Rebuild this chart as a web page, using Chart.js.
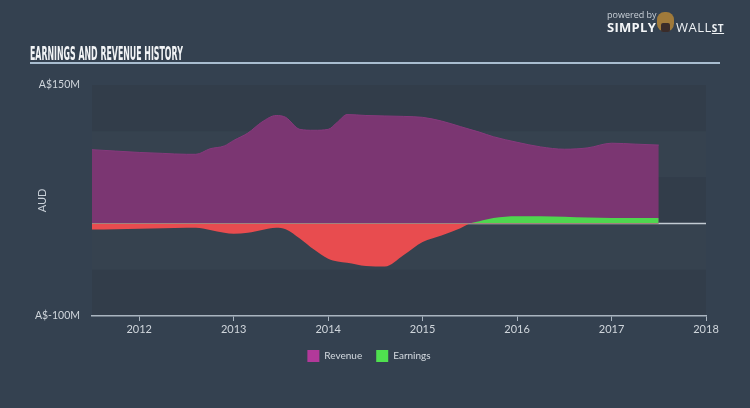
<!DOCTYPE html>
<html>
<head>
<meta charset="utf-8">
<script src="https://cdn.jsdelivr.net/npm/chart.js@4.4.0/dist/chart.umd.min.js"></script>
<style>
    html, body { margin: 0; padding: 0; background: #344150; }
    #wrap { position: relative; width: 750px; height: 408px; overflow: hidden; background: #344150; }
    #chart { position: absolute; left: 0; top: 0; }
    .title {
        position: absolute; left: 30px; top: 42px; color: #f2f4f6;
        font: bold 19px 'Liberation Sans Narrow', 'DejaVu Sans Condensed', sans-serif;
        transform: scaleX(0.46); transform-origin: left top; white-space: nowrap;
    }
    .rule { position: absolute; left: 30px; top: 62px; width: 690px; height: 2px; background: #a9bdd0; }
    .powered { position: absolute; left: 607px; top: 8px; color: #c9d0d8; font: 9px 'Open Sans', sans-serif; }
    .simply { position: absolute; left: 607px; top: 18px; color: #f4f6f8; font: bold 13px 'Open Sans', sans-serif; letter-spacing: 0.3px; }
    .icon { position: absolute; left: 657px; top: 12px; width: 17px; height: 20px; border-radius: 8px 8px 9px 9px; background: #a07a3a; }
    .icon::after { content: ''; position: absolute; left: 4px; top: 11px; width: 9px; height: 9px; background: #3a2c2a; border-radius: 2px; }
    .wall { position: absolute; left: 676px; top: 18px; color: #eef1f4; font: 13px 'Open Sans', sans-serif; letter-spacing: 0.5px; }
    .wall span { font-weight: bold; font-size: 10px; text-decoration: underline; }
</style>
</head>
<body>
<div id="wrap">
    <canvas id="chart" width="750" height="408"></canvas>
    <div class="title">EARNINGS AND REVENUE HISTORY</div>
    <div class="rule"></div>
    <div class="powered">powered by</div>
    <div class="simply">SIMPLY</div>
    <div class="icon"></div>
    <div class="wall">WALL<span>ST</span></div>
</div>
<script>
// Decimal years of each reported period
const periods = [2011.5, 2011.75, 2012.0, 2012.25, 2012.5, 2012.6, 2012.75, 2012.9, 2013.0, 2013.15,
    2013.3, 2013.45, 2013.55, 2013.7, 2013.85, 2014.0, 2014.1, 2014.2, 2014.4, 2014.6,
    2014.8, 2015.0, 2015.2, 2015.4, 2015.5, 2015.6, 2015.75, 2016.0, 2016.25, 2016.5,
    2016.75, 2017.0, 2017.25, 2017.5];

// A$ millions
const revenue = [80, 78.5, 77, 76, 75, 75, 81, 84, 90, 98,
    110, 117, 115, 102, 101, 102, 110, 118, 117, 116.5,
    116, 115, 111, 105, 102, 99, 94, 88, 83, 80.5,
    82, 87, 86, 85];

const earnings = [-6.5, -6, -5.5, -5, -4.5, -4.5, -7, -10, -11, -10,
    -7, -4.5, -6, -16, -28, -38, -41, -42.5, -46, -46.5,
    -34, -20, -13, -5, 0, 2.5, 6, 8, 8, 7.5,
    6.5, 6, 6, 6];

const yearTicks = [2012, 2013, 2014, 2015, 2016, 2017, 2018];
const valueTicks = [-100, 150];
const bandEdges = [150, 100, 50, 0, -50, -100];

const legendNames = ['Revenue', 'Earnings'];
const legendColors = ['#b2399a', '#4fe04f'];

const bandsPlugin = {
    id: 'bands',
    beforeDraw(chart) {
        const { ctx, chartArea, scales } = chart;
        const y = scales.y;
        ctx.save();
        for (let i = 0; i < bandEdges.length - 1; i++) {
            const top = y.getPixelForValue(bandEdges[i]);
            const bottom = y.getPixelForValue(bandEdges[i + 1]);
            ctx.fillStyle = i % 2 ? '#36424f' : '#323d4a';
            ctx.fillRect(chartArea.left, top, chartArea.right - chartArea.left, bottom - top);
        }
        // zero line
        const zero = y.getPixelForValue(0);
        ctx.strokeStyle = '#c3cbd3';
        ctx.lineWidth = 1.5;
        ctx.beginPath();
        ctx.moveTo(chartArea.left, zero);
        ctx.lineTo(chartArea.right, zero);
        ctx.stroke();
        ctx.restore();
    }
};

const toPoints = values => periods.map((p, i) => ({ x: p, y: values[i] }));

new Chart(document.getElementById('chart'), {
    type: 'line',
    data: {
        datasets: [
            {
                label: 'Revenue',
                data: toPoints(revenue),
                fill: 'origin',
                backgroundColor: '#7b3672',
                borderColor: '#86397c',
                borderWidth: 1,
                pointRadius: 0,
                cubicInterpolationMode: 'monotone',
                order: 1
            },
            {
                label: 'Earnings',
                data: toPoints(earnings),
                fill: { target: 'origin', above: '#4fd64f', below: '#e84c4f' },
                borderColor: 'transparent',
                borderWidth: 0,
                pointRadius: 0,
                cubicInterpolationMode: 'monotone',
                order: 0
            }
        ]
    },
    options: {
        responsive: false,
        animation: false,
        events: [],
        layout: { padding: { left: 32, right: 44, top: 85, bottom: 36 } },
        plugins: {
            tooltip: { enabled: false },
            legend: {
                position: 'bottom',
                labels: {
                    boxWidth: 12,
                    boxHeight: 12,
                    padding: 14,
                    color: '#d5dbe1',
                    font: { family: 'Lato', size: 10 },
                    generateLabels: () => legendNames.map((t, i) => ({
                        text: t,
                        fillStyle: legendColors[i],
                        strokeStyle: legendColors[i],
                        lineWidth: 0,
                        fontColor: '#d5dbe1',
                        hidden: false,
                        datasetIndex: i
                    }))
                }
            }
        },
        scales: {
            x: {
                type: 'linear',
                min: 2011.5,
                max: 2018,
                afterBuildTicks: scale => { scale.ticks = yearTicks.map(v => ({ value: v })); },
                afterFit: scale => { scale.height = 20; },
                grid: { drawOnChartArea: false, tickLength: 5, color: '#aab5c0' },
                border: { display: true, color: '#aab5c0', width: 1.5 },
                ticks: {
                    padding: 2,
                    color: '#d0d6dc',
                    font: { family: 'Lato', size: 11 },
                    maxRotation: 0,
                    callback: v => String(v)
                }
            },
            y: {
                min: -100,
                max: 150,
                afterBuildTicks: scale => { scale.ticks = valueTicks.map(v => ({ value: v })); },
                afterFit: scale => { scale.width = 60; },
                grid: { display: false, drawTicks: false },
                border: { display: false },
                title: {
                    display: true,
                    text: 'AUD',
                    color: '#c9d0d8',
                    padding: { top: 4, bottom: 0 },
                    font: { family: 'Lato', size: 11 }
                },
                ticks: {
                    padding: 12,
                    color: '#d0d6dc',
                    font: { family: 'Lato', size: 10.5 },
                    callback: v => 'A$' + v + 'M'
                }
            }
        }
    },
    plugins: [bandsPlugin]
});
</script>
</body>
</html>
